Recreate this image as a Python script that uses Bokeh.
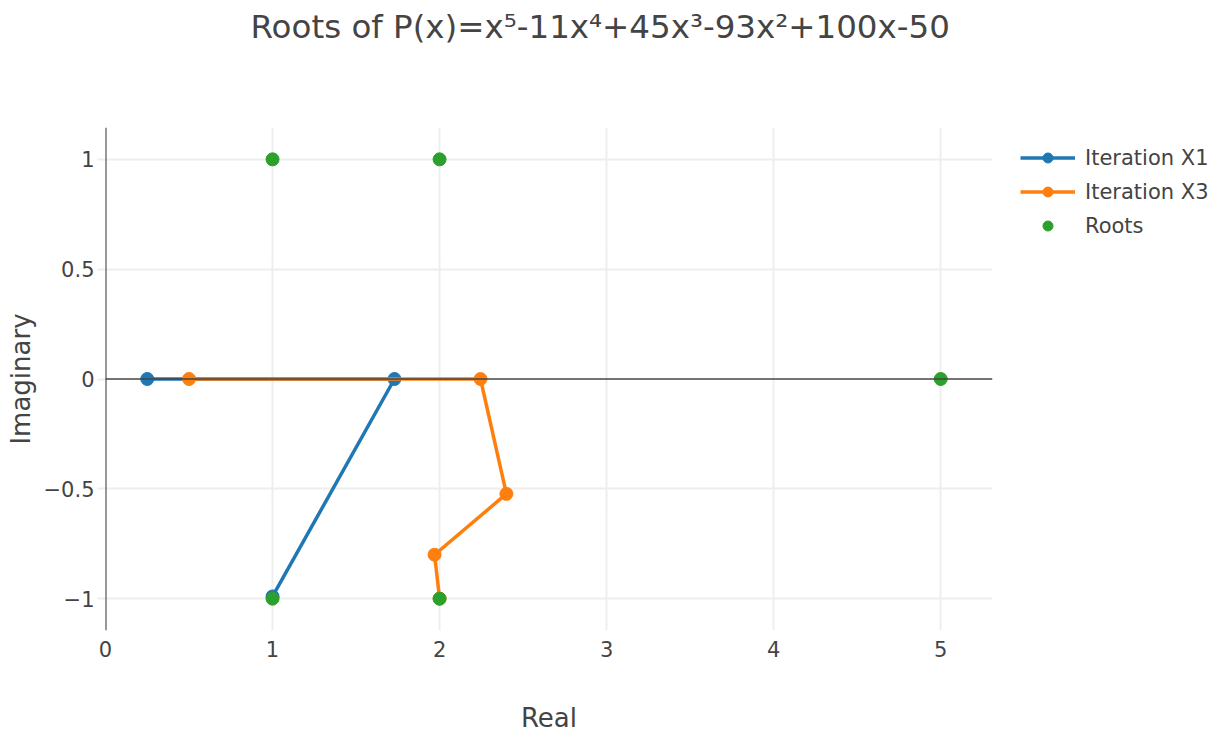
from bokeh.plotting import figure
from bokeh.models import Span, Legend, LegendItem, FixedTicker, Title
from bokeh.embed import file_html
from bokeh.resources import INLINE

# ---- data ----
x1_real = [0.25, 1.73, 1.0]
x1_imag = [0.0, 0.0, -0.99]
x3_real = [0.5, 2.245, 2.40, 1.97, 2.0]
x3_imag = [0.0, 0.0, -0.523, -0.80, -1.0]
roots_real = [1, 2, 5, 1, 2]
roots_imag = [1, 1, 0, -1, -1]
x_ticks = [0, 1, 2, 3, 4, 5]
y_ticks = [-1, -0.5, 0, 0.5, 1]
y_tick_labels = {-1: "\u22121", -0.5: "\u22120.5", 0: "0", 0.5: "0.5", 1: "1"}
title_text = "Roots of P(x)=x\u2075-11x\u2074+45x\u00b3-93x\u00b2+100x-50"

FONT = "DejaVu Sans"
BLUE, ORANGE, GREEN = "#1f77b4", "#ff7f0e", "#2ca02c"

p = figure(title=None, frame_width=887, frame_height=503,
           x_range=(0, 5.31), y_range=(-1.145, 1.145),
           output_backend="svg", toolbar_location=None,
           min_border_left=105, min_border_top=126, min_border_bottom=100,
           min_border_right=220)
p.outline_line_color = None

# spacer (closest to frame) then the real title
p.add_layout(Title(text=" ", text_font_size="1px", standoff=74), "above")
p.add_layout(Title(text=title_text, text_font=FONT, text_font_size="32.5px",
                   text_font_style="normal", text_color="#444444",
                   align="left", offset=145, standoff=10), "above")

# grids
p.xgrid.ticker = FixedTicker(ticks=[1, 2, 3, 4, 5])
p.ygrid.ticker = FixedTicker(ticks=[-1, -0.5, 0.5, 1])
p.grid.grid_line_color = "#eeeeee"
p.grid.grid_line_width = 2

# axes
p.xaxis.ticker = FixedTicker(ticks=x_ticks)
p.yaxis.ticker = FixedTicker(ticks=y_ticks)
p.yaxis.major_label_overrides = y_tick_labels
for ax in (p.xaxis[0], p.yaxis[0]):
    ax.axis_line_color = None
    ax.minor_tick_line_color = None
    ax.major_label_text_font = FONT
    ax.major_label_text_font_size = "21px"
    ax.major_label_text_color = "#444444"
    ax.axis_label_text_font = FONT
    ax.axis_label_text_font_size = "26px"
    ax.axis_label_text_font_style = "normal"
    ax.axis_label_text_color = "#444444"
p.xaxis.major_tick_line_color = None
p.xaxis.major_label_standoff = 4
p.xaxis.axis_label = "Real"
p.xaxis.axis_label_standoff = 43
p.yaxis.major_tick_in = 0
p.yaxis.major_tick_out = 8
p.yaxis.major_tick_line_color = "#eeeeee"
p.yaxis.major_tick_line_width = 2
p.yaxis.major_label_standoff = 3
p.yaxis.axis_label = "Imaginary"
p.yaxis.axis_label_standoff = 5

# zero lines
p.add_layout(Span(location=0, dimension="width", line_color="#444444", line_width=1.5))
p.add_layout(Span(location=0, dimension="height", line_color="#333333", line_width=2))

l1 = p.line(x1_real, x1_imag, line_color=BLUE, line_width=3.5)
s1 = p.scatter(x1_real, x1_imag, size=13, fill_color=BLUE, line_color=BLUE)
l3 = p.line(x3_real, x3_imag, line_color=ORANGE, line_width=3.5)
s3 = p.scatter(x3_real, x3_imag, size=13, fill_color=ORANGE, line_color=ORANGE)
sr = p.scatter(roots_real, roots_imag, size=13, fill_color=GREEN, line_color=GREEN)

legend = Legend(items=[
    LegendItem(label="Iteration X1", renderers=[l1, s1]),
    LegendItem(label="Iteration X3", renderers=[l3, s3]),
    LegendItem(label="Roots", renderers=[sr]),
], location=(28, 392))
legend.margin = 0
legend.padding = 0
legend.border_line_color = None
legend.background_fill_alpha = 0
legend.glyph_width = 55
legend.glyph_height = 25
legend.label_height = 25
legend.spacing = 9
legend.label_standoff = 10
legend.label_text_font = FONT
legend.label_text_font_size = "21px"
legend.label_text_color = "#444444"
p.add_layout(legend, "right")

open("out.html", "w").write(file_html(p, INLINE))
